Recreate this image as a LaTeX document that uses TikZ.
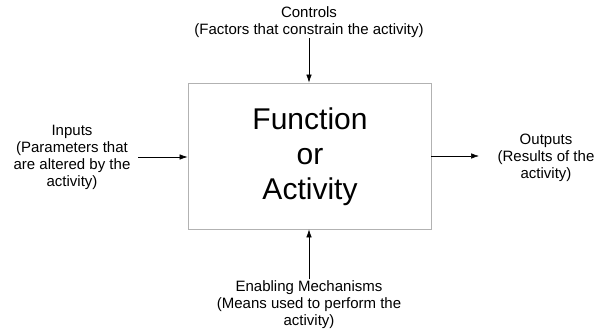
\documentclass[tikz,border=0pt]{standalone}
\usepackage{fontspec}
\setmainfont{Liberation Sans}
\usetikzlibrary{arrows.meta}
\begin{document}
\begin{tikzpicture}[x=1pt,y=-1pt,
  lbl/.style={align=center,font=\fontsize{15}{17}\selectfont,inner sep=0pt},
  conn/.style={-{Latex[length=8pt,width=5.5pt]}, line width=0.6pt}]
\useasboundingbox (0,0) rectangle (596,331);
\node[draw=black!30, line width=0.8pt, minimum width=243pt, minimum height=146pt, inner sep=0pt] (box) at (309.5,156) {};
\node[font=\fontsize{30}{35}\selectfont, align=center] (title) at (310,157) {Function\\or\\Activity};
\node[lbl] (ctrl) at (309,22.5) {Controls\\(Factors that constrain the activity)};
\node[lbl] (inp) at (72,157) {Inputs\\(Parameters that\\are altered by the\\activity)};
\node[lbl] (outp) at (546,158) {Outputs\\(Results of the\\activity)};
\node[lbl] (mech) at (309,305) {Enabling Mechanisms\\(Means used to perform the\\activity)};
\coordinate (cs) at (309,38);
\coordinate (is) at (138,157);
\coordinate (oe) at (479,156);
\coordinate (ms) at (309,279);
\draw[conn] (cs) -- (box.north -| cs);
\draw[conn] (is) -- (box.west |- is);
\draw[conn] (box.east |- oe) -- (oe);
\draw[conn] (ms) -- (box.south -| ms);
\end{tikzpicture}
\end{document}
